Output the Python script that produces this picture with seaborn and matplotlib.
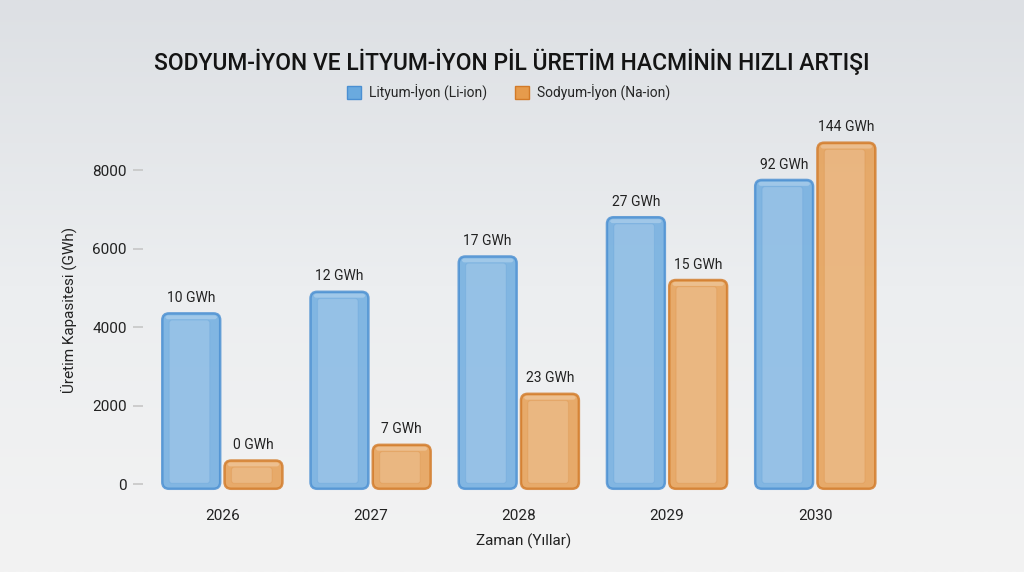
import numpy as np
import pandas as pd
import matplotlib
matplotlib.use("Agg")
import matplotlib.pyplot as plt
import seaborn as sns
from matplotlib.patches import FancyBboxPatch, Patch

# --- data ---
years = ['2026', '2027', '2028', '2029', '2030']
li_ion = [4350, 4900, 5800, 6800, 7750]
na_ion = [600, 1000, 2300, 5200, 8700]
li_labels = ['10 GWh', '12 GWh', '17 GWh', '27 GWh', '92 GWh']
na_labels = ['0 GWh', '7 GWh', '23 GWh', '15 GWh', '144 GWh']
series = ['Lityum-İyon (Li-ion)', 'Sodyum-İyon (Na-ion)']

df = pd.DataFrame({
    'year': years * 2,
    'value': li_ion + na_ion,
    'series': [series[0]] * 5 + [series[1]] * 5,
})

blue = '#6aaadf'
blue_edge = '#4a8fd2'
orange = '#e69b4c'
orange_edge = '#d27a28'

sns.set_theme(style='white')
plt.rcParams['font.family'] = ['Roboto', 'DejaVu Sans']

fig = plt.figure(figsize=(10.24, 5.72), dpi=100)

# background gradient
bg = fig.add_axes([0, 0, 1, 1], zorder=-10)
grad = np.linspace(0, 1, 256).reshape(-1, 1)
bg.imshow(grad, aspect='auto', cmap=matplotlib.colors.LinearSegmentedColormap.from_list(
    'bg', ['#dde0e4', '#eceef0', '#f3f3f3']), extent=[0, 1, 0, 1])
bg.axis('off')

ax = fig.add_axes([0.140, 0.140, 0.743, 0.638])

sns.barplot(data=df, x='year', y='value', hue='series', order=years,
            hue_order=series, palette=[blue, orange], width=0.84,
            gap=0.07, legend=False, ax=ax)
ax.set_facecolor('none')

ax.set_xlim(-0.533, 4.6)
ax.set_ylim(-200, 9100)

# restyle bars as rounded glass blocks
aspect = 3800
old = list(ax.patches)
for i, p in enumerate(old):
    x, w, h = p.get_x(), p.get_width(), p.get_height()
    is_li = i < len(years)
    face = blue if is_li else orange
    edge = blue_edge if is_li else orange_edge
    p.remove()
    y0 = -120
    outer = FancyBboxPatch((x, y0), w, h - y0,
                           boxstyle='round,pad=0,rounding_size=0.045',
                           mutation_aspect=aspect, fc=face, ec=edge,
                           lw=1.8, alpha=0.82, zorder=2)
    ax.add_patch(outer)
    inner = FancyBboxPatch((x + w * 0.12, y0 + 140), w * 0.70, h - y0 - 310,
                           boxstyle='round,pad=0,rounding_size=0.02',
                           mutation_aspect=aspect, fc='white', ec=edge,
                           lw=0.8, alpha=0.16, zorder=3)
    ax.add_patch(inner)
    top = FancyBboxPatch((x + w * 0.05, h - 150), w * 0.9, 100,
                         boxstyle='round,pad=0,rounding_size=0.02',
                         mutation_aspect=aspect, fc='white', ec='none',
                         alpha=0.25, zorder=3)
    ax.add_patch(top)
    label = li_labels[i] if is_li else na_labels[i - len(years)]
    ax.annotate(label, (x + w / 2, h), xytext=(0, 6), textcoords='offset points',
                ha='center', va='bottom', fontsize=10, color='#222222')

for s in ax.spines.values():
    s.set_visible(False)

ax.set_yticks([0, 2000, 4000, 6000, 8000])
ax.tick_params(axis='y', length=7, color='#c8c8c8', labelsize=11,
               labelcolor='#222222', pad=5, direction='out', left=True)
ax.tick_params(axis='x', length=0, labelsize=11, labelcolor='#222222', pad=12)
ax.set_xlabel('Zaman (Yıllar)', fontsize=11, color='#222222', labelpad=8)
ax.set_ylabel('Üretim Kapasitesi (GWh)', fontsize=11, color='#222222', labelpad=10)

fig.text(0.5, 0.892, 'SODYUM-İYON VE LİTYUM-İYON PİL ÜRETİM HACMİNİN HIZLI ARTIŞI',
         ha='center', va='center', fontsize=16.5, fontweight='medium', color='#141414')

handles = [Patch(fc=blue, ec=blue_edge, label=series[0]),
           Patch(fc=orange, ec=orange_edge, label=series[1])]
fig.legend(handles=handles, loc='center', bbox_to_anchor=(0.497, 0.838), ncol=2,
           frameon=False, fontsize=10, handlelength=1.0, handleheight=1.0,
           columnspacing=2.0, handletextpad=0.6)

fig.savefig('out.png', dpi=100)
